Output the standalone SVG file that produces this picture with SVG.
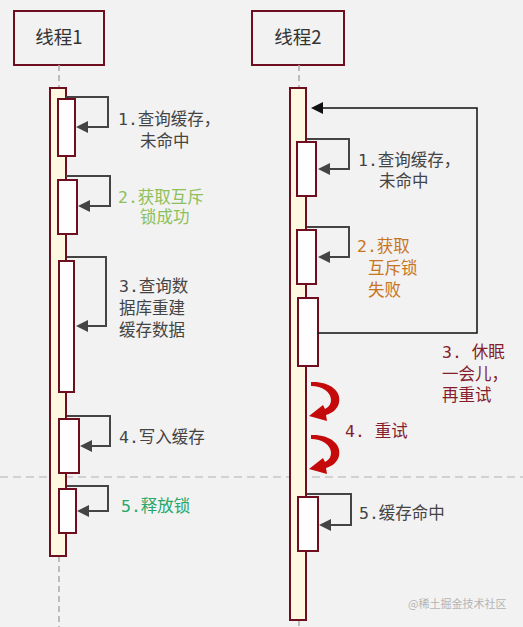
<svg xmlns="http://www.w3.org/2000/svg" width="523" height="627" viewBox="0 0 523 627">
<defs>
<style>
.bg{fill:#f2f2f2}
.head{fill:#f2f2f2;stroke:#6e0e1e;stroke-width:2}
.life{stroke:#aaaaaa;stroke-width:1.5;stroke-dasharray:6 4;fill:none}
.main{fill:#fff8e1;stroke:#6e0e1e;stroke-width:2}
.sub{fill:#fefefe;stroke:#6e0e1e;stroke-width:2}
.self{fill:none;stroke:#444444;stroke-width:2}
.tip{fill:#444444}
.loop{fill:none;stroke:#111111;stroke-width:1.5}
.red{fill:#c40a0a}
.t{font-family:"DejaVu Sans Mono","Noto Sans CJK SC",monospace;font-size:16.5px;fill:#444444}
.h{font-family:"Noto Sans CJK SC","DejaVu Sans",sans-serif;font-size:18.5px;fill:#333333;text-anchor:middle}
.g1{fill:#8cc05a}
.g2{fill:#27a86a}
.or{fill:#c87522}
.dr{fill:#861c2c}
.wm{font-family:"Noto Sans CJK SC",sans-serif;font-size:11px;fill:#b4b4b4}
</style>
</defs>
<rect class="bg" x="0" y="0" width="523" height="627"/>
<line x1="0" y1="477" x2="523" y2="477" stroke="#b0b0b0" stroke-width="1.2" stroke-dasharray="8 5"/>

<g id="thread1">
<rect class="head" x="14" y="11" width="90" height="54"/>
<text class="h" x="59" y="44">线程1</text>
<line class="life" x1="59" y1="65" x2="59" y2="88"/>
<line class="life" x1="59" y1="556" x2="59" y2="627"/>
<rect class="main" x="50" y="88" width="16" height="468"/>
</g>

<g id="thread2">
<rect class="head" x="252" y="11" width="92" height="54"/>
<text class="h" x="298" y="44">线程2</text>
<line class="life" x1="299" y1="65" x2="299" y2="88"/>
<line class="life" x1="299" y1="620" x2="299" y2="627"/>
<rect class="main" x="290" y="88" width="16" height="532"/>
</g>

<g id="t1-step1">
<rect class="sub" x="58" y="99" width="17" height="57"/>
<text class="t" x="118" y="125">1.查询缓存，</text>
<text class="t" x="140" y="147">未命中</text>
</g>
<g id="t1-step2">
<rect class="sub" x="58" y="180" width="19" height="54"/>
<text class="t g1" x="118" y="203">2.获取互斥</text>
<text class="t g1" x="140" y="223">锁成功</text>
</g>
<g id="t1-step3">
<rect class="sub" x="59" y="261" width="15" height="131"/>
<text class="t" x="119" y="292">3.查询数</text>
<text class="t" x="119" y="314">据库重建</text>
<text class="t" x="119" y="336">缓存数据</text>
</g>
<g id="t1-step4">
<rect class="sub" x="59" y="419" width="20" height="54"/>
<text class="t" x="119" y="443">4.写入缓存</text>
</g>
<g id="t1-step5">
<rect class="sub" x="59" y="489" width="17" height="44"/>
<text class="t g2" x="121" y="512">5.释放锁</text>
</g>

<g id="t2-step1">
<rect class="sub" x="297" y="142" width="19" height="54"/>
<text class="t" x="358" y="166">1.查询缓存，</text>
<text class="t" x="379" y="187">未命中</text>
</g>
<g id="t2-step2">
<rect class="sub" x="297" y="230" width="19" height="54"/>
<text class="t or" x="357" y="252">2.获取</text>
<text class="t or" x="368" y="274">互斥锁</text>
<text class="t or" x="368" y="296">失败</text>
</g>
<g id="t2-step3">
<rect class="sub" x="298" y="298" width="20" height="68"/>
<text class="t dr" x="442" y="358">3. 休眠</text>
<text class="t dr" x="442" y="380">一会儿，</text>
<text class="t dr" x="442" y="401">再重试</text>
</g>
<g id="t2-step4">
<text class="t dr" x="345" y="437">4. 重试</text>
</g>
<g id="t2-step5">
<rect class="sub" x="298" y="497" width="20" height="54"/>
<text class="t" x="359" y="519">5.缓存命中</text>
</g>

<g id="connectors">
<path class="self" d="M66,97 H108 V127 H86"/>
<polygon class="tip" points="76,127 88,121 88,133"/>
<path class="self" d="M66,176 H110 V206 H88"/>
<polygon class="tip" points="78,206 90,200 90,212"/>
<path class="self" d="M67,257 H106 V326 H86"/>
<polygon class="tip" points="76,326 88,320 88,332"/>
<path class="self" d="M67,416 H110 V446 H90"/>
<polygon class="tip" points="80,446 92,440 92,452"/>
<path class="self" d="M67,486 H108 V511 H87"/>
<polygon class="tip" points="77,511 89,505 89,517"/>

<path class="self" d="M307,139 H349 V169 H328"/>
<polygon class="tip" points="318,169 330,163 330,175"/>
<path class="self" d="M307,227 H349 V257 H328"/>
<polygon class="tip" points="318,257 330,251 330,263"/>
<path class="self" d="M307,494 H351 V525 H329"/>
<polygon class="tip" points="319,525 331,519 331,531"/>

<path class="loop" d="M318,333 H477 V108 H320"/>
<polygon fill="#111111" points="311,108 323,102 323,114"/>

<path class="red" d="M311,382 C328,381 342,390 339,403 C337,410 332,413 326,415 L327,421 L309,416 L323,405 L325,409 C329,407 331,404 331,400 C331,392 322,386 311,386 Z"/>
<path class="red" transform="translate(0,53)" d="M311,382 C328,381 342,390 339,403 C337,410 332,413 326,415 L327,421 L309,416 L323,405 L325,409 C329,407 331,404 331,400 C331,392 322,386 311,386 Z"/>
</g>

<text class="wm" x="408" y="608">@稀土掘金技术社区</text>
</svg>
